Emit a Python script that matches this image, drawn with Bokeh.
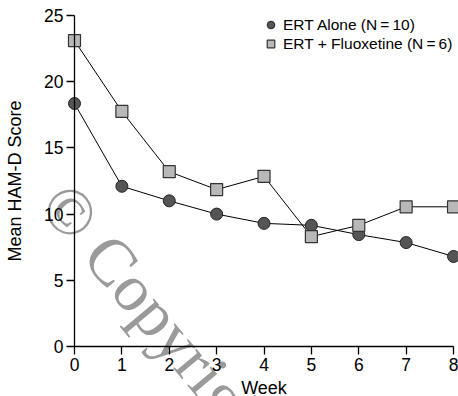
from bokeh.plotting import figure
from bokeh.models import Range1d, LinearAxis, FixedTicker, Legend, LegendItem, Label
from bokeh.embed import file_html
from bokeh.resources import INLINE

weeks = [0, 1, 2, 3, 4, 5, 6, 7, 8]
ert_alone = [18.35, 12.1, 11.0, 10.0, 9.3, 9.15, 8.45, 7.85, 6.8]
ert_fluox = [23.1, 17.75, 13.2, 11.85, 12.85, 8.3, 9.15, 10.55, 10.55]
x_ticks = [0, 1, 2, 3, 4, 5, 6, 7, 8]
y_ticks = [0, 5, 10, 15, 20, 25]
labels = ["ERT Alone (N\u2009=\u200910)", "ERT + Fluoxetine (N\u2009=\u20096)"]

W, H = 458, 396
p = figure(width=W, height=H, output_backend="svg", toolbar_location=None,
           x_range=Range1d(-1.562, 8.105), y_range=Range1d(-3.776, 26.13),
           x_axis_location=None, y_axis_location=None, min_border=0,
           outline_line_color=None)
p.xgrid.visible = False
p.ygrid.visible = False

FONT = "Liberation Sans"

xa = LinearAxis(ticker=FixedTicker(ticks=x_ticks), bounds=(0, 8), fixed_location=0,
                axis_label="Week")
ya = LinearAxis(ticker=FixedTicker(ticks=y_ticks), bounds=(0, 25), fixed_location=0,
                axis_label="Mean HAM-D Score")
for ax in (xa, ya):
    ax.major_label_text_font = FONT
    ax.major_label_text_font_size = "17.5px"
    ax.major_label_text_color = "black"
    ax.axis_label_text_font = FONT
    ax.axis_label_text_font_size = "18px"
    ax.axis_label_text_font_style = "normal"
    ax.axis_label_text_color = "black"
    ax.major_tick_out = 8
    ax.major_tick_in = 0
    ax.minor_tick_out = 0
    ax.minor_tick_in = 0
    ax.axis_line_color = "black"
    ax.major_tick_line_color = "black"
    ax.axis_line_width = 1.3
    ax.major_tick_line_width = 1.3
    ax.major_label_standoff = 3
ya.axis_label_standoff = 16
xa.axis_label_standoff = 4
p.add_layout(xa, "below")
p.add_layout(ya, "left")

wm = Label(x=-0.42, y=11.65, text="\u00a9 Copyright", angle=-50, angle_units="deg",
           text_font="Liberation Serif", text_font_size="66px", text_color="#9a9a9a",
           text_align="left", text_baseline="middle", level="underlay")
p.add_layout(wm)

p.line(weeks, ert_alone, line_color="black", line_width=1)
p.line(weeks, ert_fluox, line_color="black", line_width=1)
r1 = p.scatter(weeks, ert_alone, marker="circle", size=12, fill_color="#555555",
               line_color="#222222", line_width=1)
r2 = p.scatter(weeks, ert_fluox, marker="square", size=12, fill_color="#b8b8b8",
               line_color="#333333", line_width=1.2)

legend = Legend(items=[LegendItem(label=labels[0], renderers=[r1]),
                       LegendItem(label=labels[1], renderers=[r2])],
                location=(261, 343), background_fill_alpha=0, border_line_color=None,
                padding=0, margin=0, spacing=0, glyph_width=19, glyph_height=19,
                label_standoff=3, label_text_font=FONT, label_text_font_size="15.5px",
                label_text_color="black")
p.add_layout(legend, "center")

open("out.html", "w").write(file_html(p, INLINE))
